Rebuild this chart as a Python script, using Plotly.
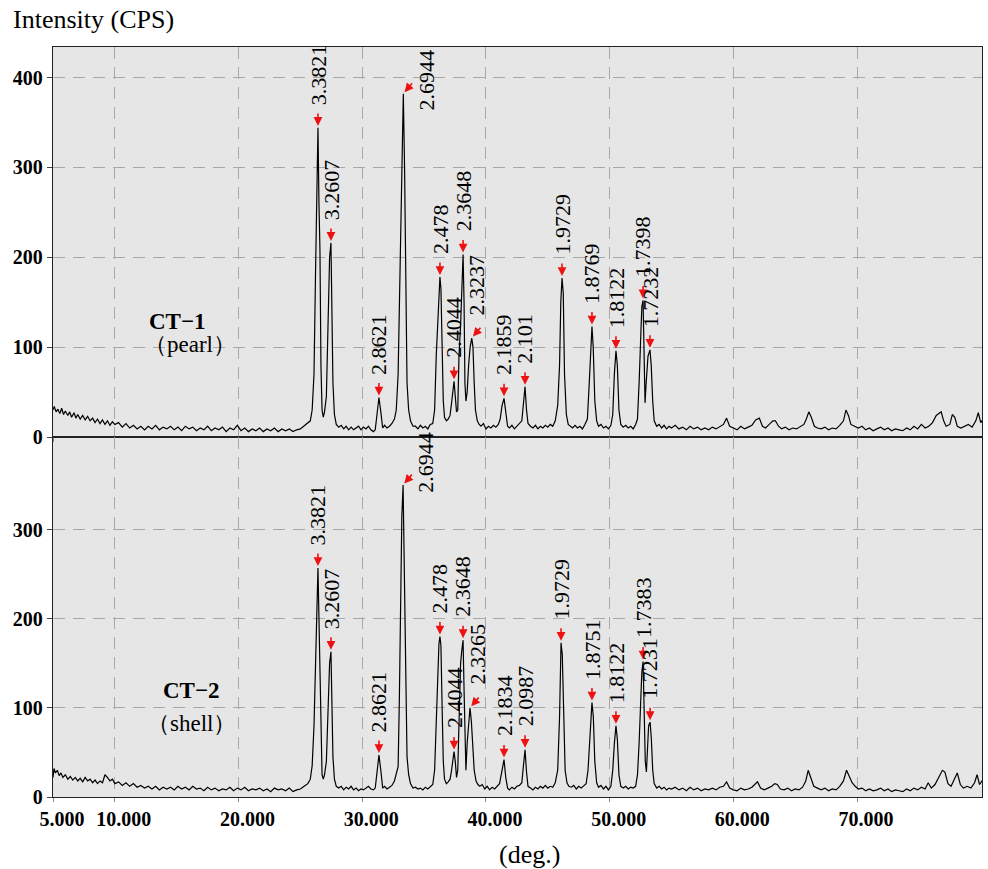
import plotly.graph_objects as go
from plotly.subplots import make_subplots

# CT-1 (pearl) diffraction pattern
ct1_angle = [
    5.0, 5.1, 5.25, 5.4, 5.55, 5.7, 5.85, 6.0, 6.2, 6.35,
    6.5, 6.7, 6.85, 7.0, 7.2, 7.4, 7.6, 7.8, 8.0, 8.2,
    8.4, 8.6, 8.8, 9.0, 9.2, 9.4, 9.6, 9.8, 10.0, 10.3,
    10.6, 10.9, 11.2, 11.5, 11.8, 12.1, 12.4, 12.7, 13.0, 13.3,
    13.6, 13.9, 14.2, 14.5, 14.8, 15.1, 15.4, 15.7, 16.0, 16.3,
    16.6, 16.9, 17.2, 17.5, 17.8, 18.1, 18.4, 18.7, 19.0, 19.3,
    19.6, 19.9, 20.2, 20.5, 20.8, 21.1, 21.4, 21.7, 22.0, 22.3,
    22.6, 22.9, 23.2, 23.5, 23.8, 24.1, 24.4, 24.7, 25.0, 25.3,
    25.6, 25.8, 25.95, 26.1, 26.22, 26.34, 26.42, 26.5, 26.58, 26.66,
    26.75, 26.85, 26.95, 27.1, 27.25, 27.36, 27.47, 27.55, 27.63, 27.75,
    27.9, 28.1, 28.3, 28.5, 28.7, 28.9, 29.1, 29.3, 29.5, 29.7,
    29.9, 30.1, 30.3, 30.5, 30.7, 30.9, 31.05, 31.2, 31.35, 31.5,
    31.65, 31.8, 32.0, 32.2, 32.4, 32.6, 32.75, 32.9, 33.0, 33.1,
    33.2, 33.32, 33.42, 33.52, 33.62, 33.75, 33.9, 34.1, 34.3, 34.5,
    34.7, 34.9, 35.1, 35.3, 35.5, 35.7, 35.85, 35.98, 36.1, 36.2,
    36.28, 36.36, 36.45, 36.55, 36.65, 36.8, 36.95, 37.1, 37.22, 37.32,
    37.42, 37.52, 37.62, 37.72, 37.82, 37.95, 38.05, 38.15, 38.23, 38.3,
    38.38, 38.48, 38.6, 38.72, 38.85, 38.95, 39.05, 39.15, 39.3, 39.45,
    39.6, 39.8, 40.0, 40.2, 40.4, 40.6, 40.8, 41.0, 41.15, 41.3,
    41.46, 41.6, 41.75, 41.9, 42.1, 42.3, 42.5, 42.7, 42.9, 43.05,
    43.16, 43.28, 43.4, 43.6, 43.8, 44.0, 44.2, 44.4, 44.6, 44.8,
    45.0, 45.2, 45.4, 45.6, 45.8, 45.95, 46.05, 46.15, 46.25, 46.35,
    46.5, 46.65, 46.8, 47.0, 47.2, 47.4, 47.6, 47.8, 48.0, 48.2,
    48.35, 48.47, 48.57, 48.67, 48.8, 48.95, 49.1, 49.3, 49.5, 49.7,
    49.9, 50.1, 50.25, 50.38, 50.51, 50.62, 50.75, 50.9, 51.1, 51.3,
    51.5, 51.7, 51.9, 52.1, 52.25, 52.38, 52.5, 52.6, 52.7, 52.78,
    52.86, 52.95, 53.1, 53.26, 53.36, 53.48, 53.6, 53.8, 54.0, 54.2,
    54.4, 54.6, 54.8, 55.0, 55.3, 55.6, 55.9, 56.2, 56.5, 56.8,
    57.1, 57.4, 57.7, 58.0, 58.3, 58.6, 58.9, 59.2, 59.45, 59.7,
    60.0, 60.3, 60.6, 60.9, 61.2, 61.5, 61.8, 62.1, 62.35, 62.6,
    62.9, 63.2, 63.4, 63.65, 63.9, 64.2, 64.5, 64.8, 65.1, 65.4,
    65.7, 65.9, 66.1, 66.3, 66.55, 66.8, 67.1, 67.4, 67.7, 68.0,
    68.3, 68.6, 68.9, 69.1, 69.3, 69.5, 69.8, 70.1, 70.4, 70.7,
    71.0, 71.3, 71.6, 71.9, 72.2, 72.5, 72.8, 73.1, 73.4, 73.7,
    74.0, 74.3, 74.6, 74.9, 75.2, 75.5, 75.8, 76.1, 76.4, 76.6,
    76.8, 77.0, 77.2, 77.5, 77.7, 77.9, 78.1, 78.4, 78.7, 79.0,
    79.3, 79.6, 79.8, 80.0, 80.2,
]
ct1_counts = [
    30, 34, 28, 31, 26, 32, 25, 29, 24, 28,
    22, 27, 21, 25, 20, 24, 19, 23, 18, 21,
    16, 20, 15, 19, 14, 18, 13, 17, 14, 16,
    11, 15, 10, 13, 9, 12, 8, 12, 9, 13,
    8, 11, 9, 12, 8, 11, 7, 12, 9, 11,
    7, 10, 8, 12, 7, 10, 8, 11, 6, 10,
    8, 13, 7, 10, 6, 9, 7, 10, 6, 9,
    7, 10, 6, 9, 7, 9, 6, 8, 9, 12,
    15, 18, 30, 70, 180, 286, 344, 260, 208, 80,
    30, 22, 28, 45, 120, 200, 216, 150, 60, 25,
    14, 11, 13, 9, 12, 8, 11, 8, 10, 12,
    8, 11, 9, 12, 8, 6, 8, 25, 44, 28,
    10, 13, 10, 12, 15, 20, 30, 70, 140, 250,
    300, 382, 300, 150, 60, 30, 18, 12, 12, 9,
    13, 10, 12, 9, 14, 15, 30, 90, 130, 170,
    178, 165, 100, 40, 22, 18, 20, 24, 38, 55,
    62, 45, 28, 30, 90, 125, 170, 203, 150, 60,
    40, 50, 80, 100, 110, 100, 60, 30, 18, 14,
    12, 15, 9, 12, 10, 13, 11, 14, 20, 35,
    43, 25, 12, 10, 13, 9, 12, 14, 18, 40,
    56, 30, 15, 12, 10, 13, 9, 12, 10, 13,
    11, 14, 12, 18, 35, 80, 150, 177, 160, 70,
    25, 14, 12, 10, 13, 10, 12, 9, 14, 20,
    60, 100, 123, 100, 40, 18, 12, 14, 10, 12,
    9, 13, 25, 70, 96, 80, 30, 14, 11, 13,
    10, 12, 9, 14, 20, 60, 120, 145, 152, 110,
    38, 60, 90, 97, 80, 40, 18, 12, 14, 10,
    13, 9, 12, 10, 13, 9, 11, 8, 12, 9,
    11, 8, 10, 8, 11, 9, 12, 14, 21, 12,
    10, 8, 12, 9, 11, 13, 19, 21, 12, 10,
    14, 18, 18, 12, 9, 11, 8, 10, 9, 12,
    14, 20, 28, 22, 12, 10, 9, 11, 8, 10,
    9, 13, 18, 30, 24, 14, 12, 10, 12, 8,
    10, 7, 9, 11, 8, 10, 7, 9, 8, 7,
    10, 8, 12, 9, 14, 10, 12, 16, 24, 26,
    28, 18, 12, 14, 25, 22, 12, 10, 12, 14,
    11, 18, 27, 16, 20,
]

# CT-2 (shell) diffraction pattern
ct2_angle = [
    5.0, 5.08, 5.2, 5.35, 5.5, 5.65, 5.8, 6.0, 6.2, 6.4,
    6.6, 6.8, 7.0, 7.2, 7.4, 7.6, 7.8, 8.0, 8.2, 8.4,
    8.6, 8.8, 9.0, 9.2, 9.4, 9.6, 9.8, 10.0, 10.3, 10.6,
    10.9, 11.2, 11.5, 11.8, 12.1, 12.4, 12.7, 13.0, 13.3, 13.6,
    13.9, 14.2, 14.5, 14.8, 15.1, 15.4, 15.7, 16.0, 16.3, 16.6,
    16.9, 17.2, 17.5, 17.8, 18.1, 18.4, 18.7, 19.0, 19.3, 19.6,
    19.9, 20.2, 20.5, 20.8, 21.1, 21.4, 21.7, 22.0, 22.3, 22.6,
    22.9, 23.2, 23.5, 23.8, 24.1, 24.4, 24.7, 25.0, 25.3, 25.6,
    25.8, 25.95, 26.1, 26.22, 26.34, 26.42, 26.5, 26.58, 26.66, 26.75,
    26.85, 26.95, 27.1, 27.25, 27.36, 27.47, 27.55, 27.63, 27.75, 27.9,
    28.1, 28.3, 28.5, 28.7, 28.9, 29.1, 29.3, 29.5, 29.7, 29.9,
    30.1, 30.3, 30.5, 30.7, 30.9, 31.05, 31.2, 31.35, 31.5, 31.65,
    31.8, 32.0, 32.2, 32.4, 32.6, 32.75, 32.9, 33.0, 33.1, 33.2,
    33.3, 33.4, 33.5, 33.62, 33.75, 33.9, 34.1, 34.3, 34.5, 34.7,
    34.9, 35.1, 35.3, 35.5, 35.7, 35.85, 35.98, 36.1, 36.2, 36.28,
    36.36, 36.45, 36.55, 36.65, 36.8, 36.95, 37.1, 37.22, 37.32, 37.42,
    37.52, 37.62, 37.72, 37.82, 37.95, 38.05, 38.15, 38.23, 38.3, 38.38,
    38.48, 38.6, 38.71, 38.82, 38.95, 39.05, 39.2, 39.35, 39.5, 39.7,
    39.9, 40.1, 40.3, 40.5, 40.7, 40.9, 41.1, 41.3, 41.46, 41.6,
    41.75, 41.9, 42.1, 42.3, 42.5, 42.7, 42.9, 43.05, 43.16, 43.28,
    43.4, 43.6, 43.8, 44.0, 44.2, 44.4, 44.6, 44.8, 45.0, 45.2,
    45.4, 45.6, 45.8, 45.95, 46.07, 46.17, 46.28, 46.4, 46.55, 46.7,
    46.9, 47.1, 47.3, 47.5, 47.7, 47.9, 48.1, 48.25, 48.4, 48.57,
    48.68, 48.8, 48.95, 49.1, 49.3, 49.5, 49.7, 49.9, 50.1, 50.25,
    50.38, 50.51, 50.62, 50.75, 50.9, 51.1, 51.3, 51.5, 51.7, 51.9,
    52.1, 52.25, 52.38, 52.5, 52.6, 52.7, 52.78, 52.88, 52.97, 53.05,
    53.15, 53.27, 53.37, 53.48, 53.6, 53.8, 54.0, 54.2, 54.4, 54.6,
    54.8, 55.0, 55.3, 55.6, 55.9, 56.2, 56.5, 56.8, 57.1, 57.4,
    57.7, 58.0, 58.3, 58.6, 58.9, 59.2, 59.45, 59.7, 60.0, 60.3,
    60.6, 60.9, 61.2, 61.5, 61.75, 61.95, 62.2, 62.5, 62.8, 63.1,
    63.35, 63.55, 63.8, 64.1, 64.4, 64.7, 65.0, 65.3, 65.6, 65.85,
    66.05, 66.25, 66.5, 66.8, 67.1, 67.4, 67.7, 68.0, 68.3, 68.6,
    68.9, 69.15, 69.35, 69.6, 69.85, 70.1, 70.4, 70.7, 71.0, 71.3,
    71.6, 71.9, 72.2, 72.5, 72.8, 73.1, 73.4, 73.7, 74.0, 74.3,
    74.6, 74.9, 75.2, 75.5, 75.75, 76.0, 76.3, 76.6, 76.9, 77.1,
    77.35, 77.6, 77.9, 78.1, 78.35, 78.6, 78.9, 79.2, 79.5, 79.7,
    79.9, 80.1, 80.2,
]
ct2_counts = [
    22, 32, 27, 30, 24, 27, 22, 25, 20, 23,
    19, 22, 18, 21, 17, 22, 18, 20, 16, 19,
    15, 18, 16, 25, 22, 18, 20, 15, 17, 13,
    16, 12, 15, 11, 13, 10, 12, 9, 12, 8,
    11, 9, 11, 8, 12, 9, 11, 8, 12, 9,
    10, 7, 11, 8, 10, 7, 9, 8, 11, 7,
    10, 8, 11, 7, 9, 8, 10, 7, 9, 6,
    10, 8, 9, 7, 10, 6, 8, 9, 12, 15,
    20, 35, 80, 160, 219, 257, 200, 140, 60, 25,
    20, 25, 40, 100, 150, 163, 110, 45, 20, 12,
    10, 12, 8, 11, 9, 12, 8, 10, 7, 9,
    8, 10, 12, 9, 8, 10, 28, 47, 30, 10,
    12, 9, 11, 13, 18, 25, 34, 110, 200, 315,
    350, 260, 120, 45, 25, 15, 10, 11, 9, 10,
    8, 11, 9, 12, 14, 30, 90, 140, 172, 180,
    170, 105, 40, 20, 15, 17, 20, 30, 45, 51,
    40, 22, 30, 100, 150, 165, 176, 120, 50, 30,
    60, 85, 100, 85, 50, 30, 18, 14, 12, 14,
    9, 12, 8, 11, 9, 12, 15, 30, 42, 22,
    10, 8, 11, 9, 12, 13, 16, 38, 53, 28,
    12, 10, 8, 11, 9, 12, 10, 13, 10, 12,
    11, 16, 30, 90, 173, 160, 80, 30, 16, 12,
    11, 13, 9, 12, 10, 13, 15, 30, 70, 106,
    90, 40, 16, 11, 13, 9, 12, 8, 12, 30,
    60, 80, 65, 25, 12, 10, 12, 9, 11, 10,
    12, 25, 60, 110, 140, 152, 100, 40, 28, 60,
    80, 84, 65, 30, 15, 10, 12, 9, 11, 8,
    10, 9, 11, 8, 10, 7, 11, 8, 10, 7,
    9, 8, 10, 8, 11, 12, 17, 10, 8, 7,
    10, 8, 9, 11, 14, 17, 10, 8, 10, 12,
    15, 14, 9, 8, 10, 7, 9, 8, 11, 18,
    30, 22, 12, 10, 8, 10, 7, 9, 8, 12,
    18, 30, 24, 16, 12, 9, 10, 7, 9, 7,
    8, 10, 7, 9, 6, 8, 7, 6, 9, 7,
    10, 8, 11, 9, 16, 10, 14, 22, 30, 28,
    15, 12, 20, 27, 14, 10, 12, 10, 16, 25,
    14, 18, 16,
]

# d-spacing labels of the marked peaks
ct1_peak_labels = ["3.3821", "3.2607", "2.8621", "2.6944", "2.478", "2.4044", "2.3648", "2.3237",
                   "2.1859", "2.101", "1.9729", "1.8769", "1.8122", "1.7398", "1.7232"]
ct1_peak_angle = [26.42, 27.47, 31.35, 33.32, 36.28, 37.42, 38.15, 38.85,
                  41.46, 43.16, 46.15, 48.57, 50.51, 52.7, 53.26]
ct1_peak_counts = [344, 216, 44, 382, 178, 62, 203, 110, 43, 56, 177, 123, 96, 152, 97]

ct2_peak_labels = ["3.3821", "3.2607", "2.8621", "2.6944", "2.478", "2.4044", "2.3648", "2.3265",
                   "2.1834", "2.0987", "1.9729", "1.8751", "1.8122", "1.7383", "1.7231"]
ct2_peak_angle = [26.42, 27.47, 31.35, 33.3, 36.28, 37.42, 38.15, 38.71,
                  41.46, 43.16, 46.07, 48.57, 50.51, 52.7, 53.27]
ct2_peak_counts = [257, 163, 47, 350, 180, 51, 176, 100, 42, 53, 173, 106, 80, 152, 84]

x_tickvals = [5, 10, 20, 30, 40, 50, 60, 70]
x_ticktext = ["5.000", "10.000", "20.000", "30.000", "40.000", "50.000", "60.000", "70.000"]

SERIF = "Liberation Serif, Times New Roman, serif"

fig = make_subplots(rows=2, cols=1, shared_xaxes=True, vertical_spacing=0,
                    row_heights=[0.52, 0.48])

fig.add_trace(go.Scatter(x=ct1_angle, y=ct1_counts, mode="lines",
                         line=dict(color="black", width=1.2), showlegend=False), row=1, col=1)
fig.add_trace(go.Scatter(x=ct2_angle, y=ct2_counts, mode="lines",
                         line=dict(color="black", width=1.2), showlegend=False), row=2, col=1)


def add_peak_marks(labels, angles, counts, yref, side):
    for lab, a, c in zip(labels, angles, counts):
        if lab in side:
            ax, ay, xs, ys = 10, -12, side[lab][0], side[lab][1]
        else:
            ax, ay, xs, ys = 0, -16, 0, 21
        # red arrow
        fig.add_annotation(x=a, y=c, xref="x", yref=yref, text="", showarrow=True,
                           ax=ax, ay=ay, standoff=2, arrowhead=2, arrowsize=1.1,
                           arrowwidth=1.6, arrowcolor="#ee1111")
        # rotated d-spacing text
        fig.add_annotation(x=a, y=c, xref="x", yref=yref, text=lab, showarrow=False,
                           textangle=-90, xanchor="center", yanchor="bottom",
                           xshift=xs, yshift=ys,
                           font=dict(family=SERIF, size=22, color="black"))


add_peak_marks(ct1_peak_labels, ct1_peak_angle, ct1_peak_counts, "y",
               {"2.6944": (23, -19), "2.3237": (5, 21)})
add_peak_marks(ct2_peak_labels, ct2_peak_angle, ct2_peak_counts, "y2",
               {"2.6944": (23, -10), "2.3265": (7, 21)})

# sample names
fig.add_annotation(x=15.1, y=128, xref="x", yref="y", text="<b>CT\u22121</b>", showarrow=False,
                   font=dict(family=SERIF, size=23, color="black"))
fig.add_annotation(x=16.1, y=103, xref="x", yref="y", text="\uff08pearl\uff09", showarrow=False,
                   font=dict(family=SERIF, size=23, color="black"))
fig.add_annotation(x=16.2, y=120, xref="x", yref="y2", text="<b>CT\u22122</b>", showarrow=False,
                   font=dict(family=SERIF, size=23, color="black"))
fig.add_annotation(x=16.2, y=82, xref="x", yref="y2", text="\uff08shell\uff09", showarrow=False,
                   font=dict(family=SERIF, size=23, color="black"))

# axis titles
fig.add_annotation(x=-0.045, y=1.036, xref="paper", yref="paper", text="Intensity (CPS)",
                   showarrow=False, xanchor="left", yanchor="middle",
                   font=dict(family=SERIF, size=26, color="black"))
fig.add_annotation(x=0.513, y=-0.077, xref="paper", yref="paper", text="(deg.)",
                   showarrow=False, xanchor="center", yanchor="middle",
                   font=dict(family=SERIF, size=26, color="black"))

grid = dict(showgrid=True, gridcolor="#a8a8a8", griddash="12px,8px", gridwidth=1,
            showline=True, linecolor="#222222", linewidth=1.3, mirror=True, zeroline=False,
            automargin=False)
tickfont = dict(family=SERIF, size=20, color="black", weight="bold")

fig.update_xaxes(range=[5, 80.1], tickvals=x_tickvals, ticktext=x_ticktext,
                 ticks="outside", ticklen=4, tickcolor="#888888", tickfont=tickfont,
                 ticklabelshift=9, **grid)
fig.update_xaxes(showticklabels=False, row=1, col=1)
fig.update_yaxes(ticks="outside", ticklen=5, tickcolor="#444444", tickfont=tickfont, **grid)
fig.update_yaxes(range=[0, 434], tickvals=[0, 100, 200, 300, 400], row=1, col=1)
fig.update_yaxes(range=[0, 404], tickvals=[0, 100, 200, 300], row=2, col=1)

fig.update_layout(
    width=988, height=869,
    margin=dict(l=53, r=6, t=47, b=72, autoexpand=False),
    plot_bgcolor="#e6e6e6",
    paper_bgcolor="white",
    showlegend=False,
)

# the page body has a default 8px margin; drop it so the figure fills the window
fig.write_html("out.html", config={"displayModeBar": False},
               post_script="document.body.style.margin='0';")
